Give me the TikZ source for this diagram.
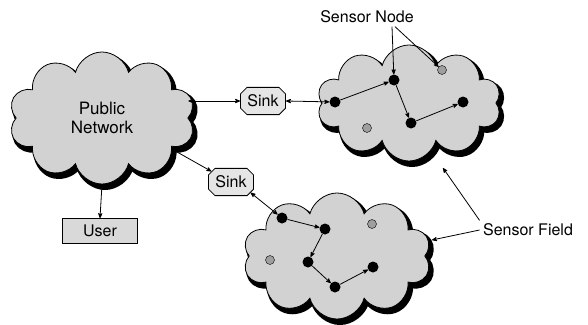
\documentclass[tikz,border=0pt]{standalone}
\usepackage{fontspec}
\setmainfont{TeX Gyre Heros}
\usetikzlibrary{arrows, shapes.symbols, shapes.misc, positioning}
\tikzset{
>=stealth', % bold arrow heads
cloudbase/.style={cloud, cloud puffs=10, aspect=1.5},
field/.style={cloudbase, draw=black, thick, fill=gray!35},
fieldshadow/.style={cloudbase, draw=black, line width=4pt, fill=black},
sensor/.style={circle, fill=black, inner sep=0pt, minimum size=11pt},
idle/.style={circle, draw=black, fill=gray!75, inner sep=0pt, minimum size=9pt},
sinkbox/.style={chamfered rectangle, chamfered rectangle xsep=3pt, draw, thick, fill=gray!20,
  inner xsep=4pt, inner ysep=4pt, font=\fontsize{16}{18}\selectfont},
userbox/.style={rectangle, draw, thick, fill=gray!30, minimum width=75pt, minimum height=25pt,
  font=\fontsize{16}{18}\selectfont},
caption/.style={font=\fontsize{16}{18}\selectfont},
link/.style={->, thick},
}

\begin{document}
\begin{tikzpicture}[x=1pt, y=-1pt]
  \useasboundingbox (0,0) rectangle (588,324);
  % shadows of the clouds
  \node[fieldshadow, minimum width=186pt, minimum height=132pt] (pubsh) at (105,122) {};
  \node[fieldshadow, minimum width=184pt, minimum height=116pt] (topsh) at (412,107) {};
  \node[fieldshadow, minimum width=188pt, minimum height=126pt] (botsh) at (340,260) {};
  % clouds
  \node[field, minimum width=186pt, minimum height=132pt, align=center,
        font=\fontsize{17}{19}\selectfont] (pub) at (102,118) {Public\\Network};
  \node[field, minimum width=184pt, minimum height=116pt] (top) at (409,103) {};
  \node[field, minimum width=188pt, minimum height=126pt] (bot) at (337,256) {};

  \node[sinkbox] (sink1) at (263,101) {Sink};
  \node[sinkbox] (sink2) at (231,182) {Sink};
  \node[userbox] (user) at (100,231) {User};

  % upper sensor field
  \node[sensor] (a) at (335,102) {};
  \node[sensor] (b) at (394,80) {};
  \node[sensor] (c) at (411,123) {};
  \node[sensor] (d) at (463,102) {};
  \node[idle] (g1) at (367,128) {};
  \node[idle] (g2) at (442,70) {};

  % lower sensor field
  \node[sensor] (e) at (282,218) {};
  \node[sensor] (f) at (325,229) {};
  \node[sensor] (g) at (308,262) {};
  \node[sensor] (h) at (335,287) {};
  \node[sensor] (i) at (373,267) {};
  \node[idle] (g3) at (372,224) {};
  \node[idle] (g4) at (270,260) {};

  \draw[link] (a) -- (b);
  \draw[link] (b) -- (c);
  \draw[link] (c) -- (d);
  \draw[link] (e) -- (f);
  \draw[link] (f) -- (g);
  \draw[link] (g) -- (h);
  \draw[link] (h) -- (i);

  \draw[<->, thick] (sink1.west -| pub.east) -- (sink1.west);
  \draw[<->, thick] (sink1.east) -- (a);
  \draw[<->, thick] (pub.-24) -- (sink2.north west);
  \draw[<->, thick] (sink2.south east) -- (e);
  \draw[<->, thick] (pub.south) -- (user.north);

  % labels
  \node[caption] (sn) at (367,17) {Sensor Node};
  \draw[link] ([xshift=25pt]sn.south) -- (b);
  \draw[link] ([xshift=28pt]sn.south) -- (g2);

  \node[caption] (sf) at (528,230) {Sensor Field};
  \coordinate (topedge) at (443,168);
  \coordinate (botedge) at (432,240);
  \draw[link] (sf.north west) -- (topedge);
  \draw[link] (sf.west) -- (botedge);
\end{tikzpicture}
\end{document}
